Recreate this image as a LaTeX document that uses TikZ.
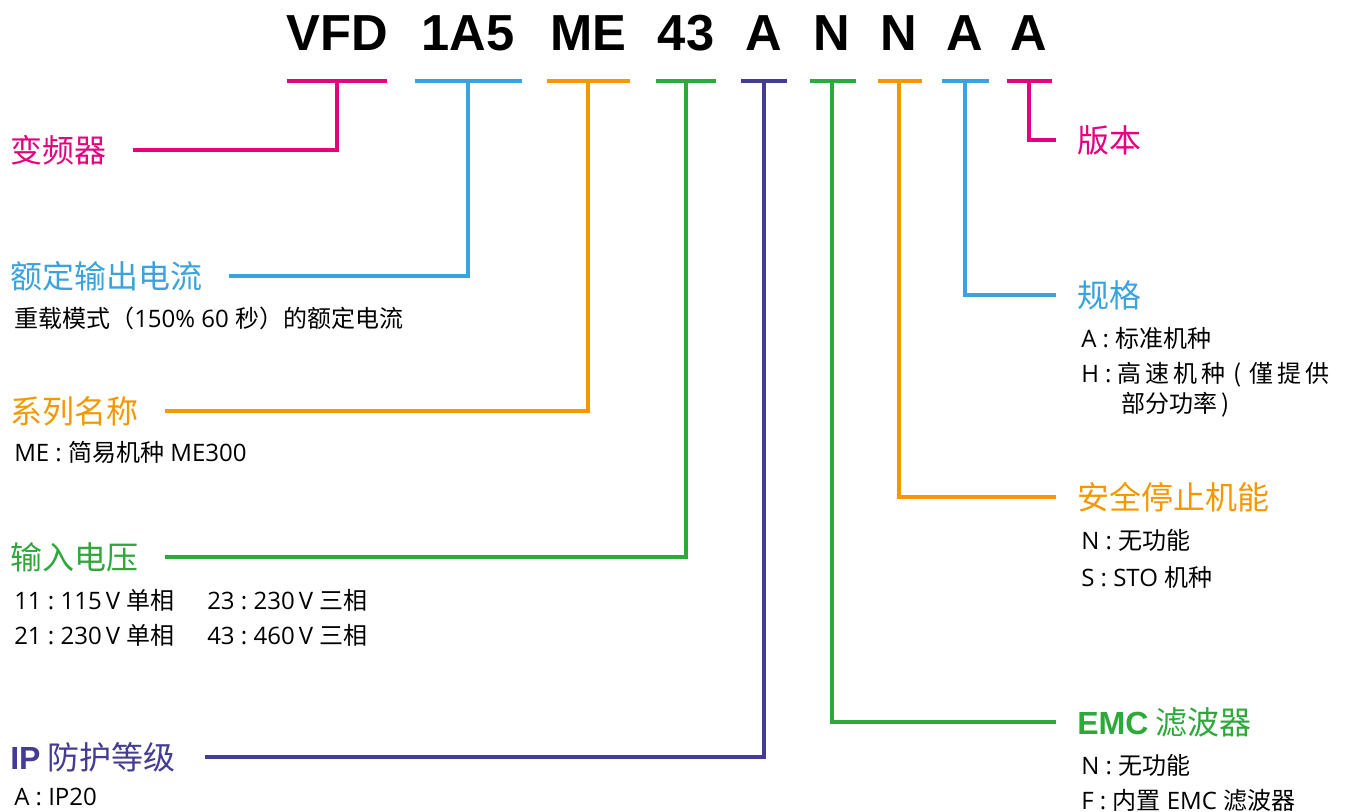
\documentclass[tikz,border=0pt]{standalone}
\usepackage{fontspec}
\setmainfont{Open Sans}
\newfontfamily\cjk{Noto Sans CJK SC}
\newfontfamily\codefont{Liberation Sans}
\newcommand{\zh}[1]{{\cjk #1}}
\definecolor{vpink}{HTML}{E4007F}
\definecolor{vblue}{HTML}{3AA3DD}
\definecolor{vorange}{HTML}{F39800}
\definecolor{vgreen}{HTML}{2EA83A}
\definecolor{vpurple}{HTML}{433C92}
\tikzset{
    code/.style={anchor=base, inner sep=0pt, font=\codefont\bfseries\fontsize{38}{40}\selectfont},
    head/.style={anchor=west, inner sep=0pt, font=\cjk\fontsize{24}{26}\selectfont},
    sub/.style={anchor=west, inner sep=0pt, font=\fontsize{18}{19}\selectfont},
    bar/.style={line width=3pt},
    link/.style={line width=3pt, shorten >=#1},
    link/.default=20pt
}

\begin{document}
\begin{tikzpicture}[x=0.75pt, y=-0.75pt]
  \useasboundingbox (0,0) rectangle (1348,811);

  % model code
  \node[code] (c1) at (337,50) {VFD};
  \node[code] (c2) at (468,50) {1A5};
  \node[code] (c3) at (588,50) {ME};
  \node[code] (c4) at (686,50) {43};
  \node[code] (c5) at (764,50) {A};
  \node[code] (c6) at (832,50) {N};
  \node[code] (c7) at (899,50) {N};
  \node[code] (c8) at (965,50) {A};
  \node[code] (c9) at (1029,50) {A};

  \coordinate (t1) at (337,81);
  \coordinate (t2) at (468,81);
  \coordinate (t3) at (588,81);
  \coordinate (t4) at (686,81);
  \coordinate (t5) at (764,81);
  \coordinate (t6) at (832,81);
  \coordinate (t7) at (899,81);
  \coordinate (t8) at (965,81);
  \coordinate (t9) at (1029,81);

  % left side
  \node[head, vpink] (h1) at (10,150) {变频器};
  \node[head, vblue] (h2) at (10,276) {额定输出电流};
  \node[sub] (s2) at (14,318) {\zh{重载模式（}150\% 60 \zh{秒）的额定电流}};
  \node[head, vorange] (h3) at (10,411) {系列名称};
  \node[sub] (s3) at (14,452) {ME~:~\zh{简易机种} ME300};
  \node[head, vgreen] (h4) at (10,557) {输入电压};
  \node[sub] (s4a) at (14,600) {11~:~115\,V \zh{单相}};
  \node[sub] (s4b) at (207,600) {23~:~230\,V \zh{三相}};
  \node[sub] (s4c) at (14,635) {21~:~230\,V \zh{单相}};
  \node[sub] (s4d) at (207,635) {43~:~460\,V \zh{三相}};
  \node[head, vpurple] (h5) at (10,757) {{\codefont\bfseries IP} 防护等级};
  \node[sub] (s5) at (14,797) {A~:~IP20};

  % right side
  \node[head, vpink] (h6) at (1077,140) {版本};
  \node[head, vblue] (h7) at (1077,295) {规格};
  \node[sub] (s7a) at (1081,338) {A~:~\zh{标准机种}};
  \node[sub] (s7b) at (1081,375) {H~:~\zh{高\,速\,机\,种\,\,(\,\,僅\,提\,供}};
  \node[sub] (s7c) at (1121,405) {\zh{部分功率\,)}};
  \node[head, vorange] (h8) at (1077,497) {安全停止机能};
  \node[sub] (s8a) at (1081,540) {N~:~\zh{无功能}};
  \node[sub] (s8b) at (1081,577) {S~:~STO \zh{机种}};
  \node[head, vgreen] (h9) at (1077,722) {{\codefont\bfseries EMC} 滤波器};
  \node[sub] (s9a) at (1081,765) {N~:~\zh{无功能}};
  \node[sub] (s9b) at (1081,800) {F~:~\zh{内置} EMC \zh{滤波器}};

  % bars under the code
  \draw[bar, vpink] (287,81) -- (387,81);
  \draw[bar, vblue] (415,81) -- (522,81);
  \draw[bar, vorange] (547,81) -- (630,81);
  \draw[bar, vgreen] (656,81) -- (716,81);
  \draw[bar, vpurple] (741,81) -- (787,81);
  \draw[bar, vgreen] (810,81) -- (856,81);
  \draw[bar, vorange] (878,81) -- (922,81);
  \draw[bar, vblue] (942,81) -- (989,81);
  \draw[bar, vpink] (1007,81) -- (1052,81);

  % connectors
  \draw[link, vpink] (t1) |- (h1.east);
  \draw[link, vblue] (t2) |- (h2.east);
  \draw[link, vorange] (t3) |- (h3.east);
  \draw[link, vgreen] (t4) |- (h4.east);
  \draw[link=22pt, vpurple] (t5) |- (h5.east);
  \draw[link=16pt, vgreen] (t6) |- (h9.west);
  \draw[link=16pt, vorange] (t7) |- (h8.west);
  \draw[link=16pt, vblue] (t8) |- (h7.west);
  \draw[link=16pt, vpink] (t9) |- (h6.west);

\end{tikzpicture}
\end{document}
